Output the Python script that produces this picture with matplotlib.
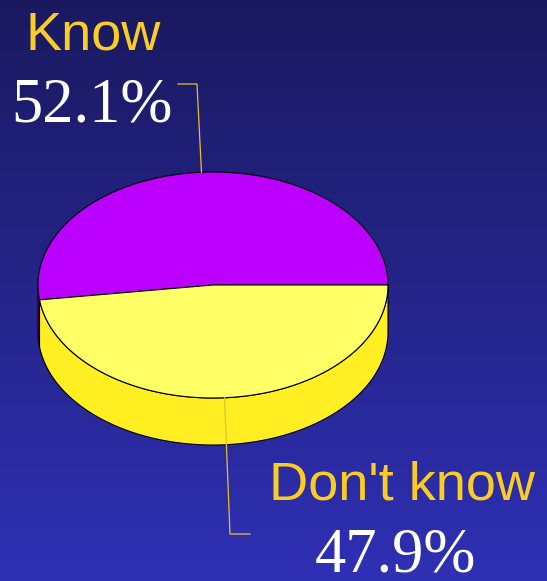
import numpy as np
import matplotlib.pyplot as plt
from matplotlib.patches import Polygon

labels = ["Know", "Don't know"]
shares = [52.1, 47.9]
top_colors = ["#BB00FF", "#FFFF66"]
side_colors = ["#8A00C0", "#FFEE22"]

# pie geometry in pixel units (y grows downward)
cx, cy = 213, 285
rx, ry = 175, 113
depth = 47

fig = plt.figure(figsize=(5.47, 5.81), dpi=100)
ax = fig.add_axes([0, 0, 1, 1])
ax.set_xlim(0, 547)
ax.set_ylim(581, 0)
ax.axis("off")

# vertical background gradient, dark navy to brighter blue
top = np.array([26, 25, 96]) / 255
bot = np.array([47, 48, 180]) / 255
t = np.linspace(0, 1, 256)[:, None, None]
grad = top + (bot - top) * t
grad = np.repeat(grad, 2, axis=1)
ax.imshow(grad, extent=[0, 547, 581, 0], aspect="auto", zorder=0)


def rim(a0, a1, n=200):
    a = np.radians(np.linspace(a0, a1, n))
    return cx + rx * np.cos(a), cy - ry * np.sin(a)


angles = np.concatenate([[0], np.cumsum(shares) / sum(shares) * 360])

# side walls: only the front half (180..360 deg) is visible
for i in range(len(shares)):
    a0, a1 = max(angles[i], 180), min(angles[i + 1], 360)
    if a1 <= a0:
        continue
    x, y = rim(a0, a1)
    pts = np.column_stack([np.r_[x, x[::-1]], np.r_[y, y[::-1] + depth]])
    ax.add_patch(Polygon(pts, closed=True, fc=side_colors[i], ec="black", lw=0.8, zorder=2))

# top faces
for i in range(len(shares)):
    x, y = rim(angles[i], angles[i + 1])
    pts = np.column_stack([np.r_[cx, x], np.r_[cy, y]])
    ax.add_patch(Polygon(pts, closed=True, fc=top_colors[i], ec="black", lw=0.8, zorder=3))

# leader lines from slice midpoints
line_col = "#E8C028"
mids = (angles[:-1] + angles[1:]) / 2
ax_, ay_ = rim(mids[0], mids[0], 1)
ax.plot([178, 197, ax_[0]], [84, 84, ay_[0]], color=line_col, lw=0.9, zorder=4)
bx_, by_ = rim(mids[1], mids[1], 1)
ax.plot([bx_[0], 230, 250], [by_[0], 534, 534], color=line_col, lw=0.9, zorder=4)

txt_yel = "#FACD24"
ax.text(93, 49, labels[0], color=txt_yel, fontsize=39, family="Liberation Sans",
        ha="center", va="baseline", zorder=5)
ax.text(92, 121, f"{shares[0]:.1f}%", color="white", fontsize=45, family="Liberation Serif",
        ha="center", va="baseline", zorder=5)
ax.text(402, 499, labels[1], color=txt_yel, fontsize=39, family="Liberation Sans",
        ha="center", va="baseline", zorder=5)
ax.text(395, 571, f"{shares[1]:.1f}%", color="white", fontsize=45, family="Liberation Serif",
        ha="center", va="baseline", zorder=5)

fig.savefig("out.png", dpi=100)
